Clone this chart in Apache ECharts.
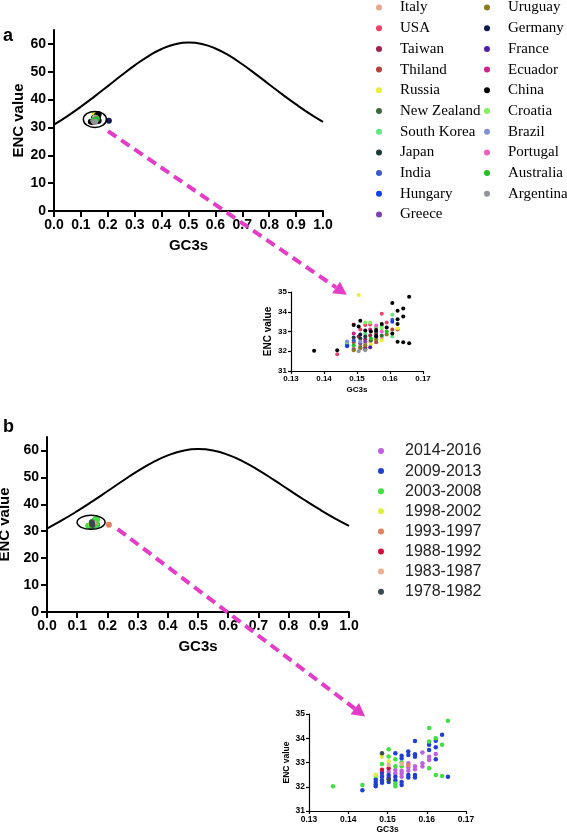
<!DOCTYPE html>
<html><head><meta charset="utf-8">
<script src="https://cdn.jsdelivr.net/npm/echarts@6/dist/echarts.min.js"></script>
<style>html,body{margin:0;padding:0;background:#fff;}#c{width:567px;height:833px;}</style>
</head><body><div id="c"></div>
<script>
// ---------- expected ENC curve (GC3s, ENC) ----------
const curveGC3 = [0,0.05,0.1,0.15,0.2,0.25,0.3,0.35,0.4,0.45,0.5,0.55,0.6,0.65,0.7,0.75,0.8,0.85,0.9,0.95,1.0];
const curveENC = [31,34.09,37.47,41.08,44.85,48.65,52.3,55.56,58.17,59.88,60.5,59.98,58.37,55.86,52.7,49.15,45.45,41.78,38.27,34.99,32];

// ---------- tick values ----------
const mainYTicks = [0,10,20,30,40,50,60];

// ---------- panel a: countries ----------
const countryNamesCol1 = ['Italy','USA','Taiwan','Thiland','Russia','New Zealand','South Korea','Japan','India','Hungary','Greece'];
const countryNamesCol2 = ['Uruguay','Germany','France','Ecuador','China','Croatia','Brazil','Portugal','Australia','Argentina'];
const italy = [[0.149,32.15],[0.151,32.3],[0.1525,32.4],[0.154,32.5],[0.1558,32.55],[0.1575,32.7]];
const usa = [[0.144,31.85],[0.149,33.35],[0.151,33.1],[0.1525,33.33],[0.154,33.35],[0.1575,33.9],[0.159,33.45]];
const taiwan = [[0.1505,32.75],[0.1525,32.6],[0.154,32.8],[0.1558,32.9]];
const thiland = [[0.149,32.45],[0.1525,32.2],[0.1558,32.45],[0.1607,33.1],[0.1623,33.1]];
const russia = [[0.1505,34.85],[0.1542,32.35],[0.1575,32.55],[0.1623,33.15]];
const newZealand = [[0.147,32.3],[0.151,32.2],[0.1542,32.55],[0.1575,32.8]];
const southKorea = [[0.1525,32.9],[0.1558,33.2],[0.1575,33.3],[0.1607,33.85],[0.1607,32.75]];
const japan = [[0.149,32.7],[0.151,32.65],[0.1525,32.75],[0.1558,33.0]];
const india = [[0.147,32.35],[0.149,32.55],[0.1607,33.6]];
const hungary = [[0.147,32.25],[0.1607,33.5]];
const greece = [[0.149,32.1],[0.151,32.4],[0.1525,32.5]];
const uruguay = [[0.149,32.05],[0.151,32.15],[0.1525,32.3],[0.1558,32.6],[0.159,32.85]];
const germany = [[0.151,32.85],[0.1558,32.75],[0.204,32.4]];
const france = [[0.1525,32.1],[0.154,32.2]];
const ecuador = [[0.149,32.9],[0.154,33.1]];
const china = [[0.137,32.02],[0.144,32.05],[0.149,33.33],[0.151,33.55],[0.1505,33.25],[0.1525,33.05],[0.1558,33.07],[0.1558,32.77],[0.1575,33.38],[0.159,33.2],[0.1607,34.44],[0.1607,32.9],[0.1623,34.05],[0.1623,33.62],[0.1623,33.38],[0.164,34.16],[0.164,33.76],[0.1658,34.76],[0.1623,32.48],[0.164,32.45],[0.1658,32.4],[0.1542,33.0]];
const croatia = [[0.147,32.45],[0.1525,33.45],[0.154,33.45],[0.1575,33.15]];
const brazil = [[0.147,32.5],[0.151,32.5]];
const portugal = [[0.1558,33.3],[0.1575,33.0]];
const australia = [[0.149,32.3],[0.1542,32.65],[0.159,33.0]];
const argentina = [[0.1505,32.0],[0.1525,32.05]];
const countryData = [italy,usa,taiwan,thiland,russia,newZealand,southKorea,japan,india,hungary,greece,
  uruguay,germany,france,ecuador,china,croatia,brazil,portugal,australia,argentina];

// ---------- panel b: periods ----------
const periodNames = ['2014-2016','2009-2013','2003-2008','1998-2002','1993-1997','1988-1992','1983-1987','1978-1982'];
const p2014 = [[0.1503,32.62],[0.152,32.69],[0.152,32.55],[0.1536,32.66],[0.1536,32.55],[0.1536,32.41],[0.1553,32.97],[0.1553,32.8],[0.1553,32.66],[0.157,32.85],[0.157,32.72],[0.1589,33.41],[0.1589,32.97],[0.1589,32.83],[0.1606,33.24],[0.1606,33.1],[0.1623,33.35],[0.1486,32.5],[0.1503,32.4]];
const p2009 = [[0.1436,31.86],[0.147,32.3],[0.147,32.2],[0.147,32.1],[0.147,32.02],[0.1486,32.58],[0.1486,32.41],[0.1486,32.27],[0.1486,32.16],[0.1503,32.48],[0.1503,32.34],[0.1503,32.2],[0.152,33.38],[0.152,32.41],[0.152,32.27],[0.1536,33.28],[0.1536,33.17],[0.1536,32.2],[0.1536,32.07],[0.1553,33.45],[0.1553,33.31],[0.1553,32.48],[0.1553,32.38],[0.157,33.89],[0.157,33.34],[0.157,33.24],[0.157,32.48],[0.157,32.38],[0.1606,33.73],[0.1606,33.52],[0.1623,33.9],[0.1623,33.63],[0.1623,33.13],[0.1639,34.14],[0.1654,32.41]];
const p2003 = [[0.1361,32.02],[0.1436,32.07],[0.147,32.44],[0.1486,32.94],[0.1503,33.55],[0.1503,33.25],[0.152,33.13],[0.152,32.85],[0.152,32.13],[0.152,32.02],[0.1536,33.0],[0.1536,32.85],[0.1606,34.42],[0.1606,33.87],[0.1606,32.76],[0.1623,34.0],[0.1623,32.48],[0.1639,33.73],[0.1639,32.44],[0.1654,34.72]];
const p1998 = [[0.1486,33.24],[0.1503,33.05],[0.147,32.5]];
const p1993 = [[0.1553,32.9],[0.205,32.4]];
const p1988 = [[0.1503,32.76],[0.1486,32.7]];
const p1983 = [[0.1503,32.9],[0.1536,32.95]];
const p1978 = [[0.1486,33.38],[0.1503,32.3]];
const periodData = [p2014,p2009,p2003,p1998,p1993,p1988,p1983,p1978];

// ---------- annotation anchors (data coords) ----------
const ellipseA = [0.152, 32.9];
const ellipseB = [0.146, 33.3];
const arrowAStart = [0.2007, 28.7];   // main a
const arrowATip = [0.1469, 34.86];    // inset a
const arrowBStart = [0.234, 30.8];    // main b
const arrowBTip = [0.1443, 34.9];     // inset b

// ---------- styles ----------
const countryColors = ['#E8A888','#F0406A','#A02050','#B84040','#E8F030','#3A6A3A','#60E880','#1E3A3A','#3A5AC8','#1040F0','#8040B0',
  '#8A7A20','#101850','#5020A0','#D0208A','#000000','#80F060','#8090D0','#F060C0','#20C020','#909498'];
const periodColors = ['#C060E0','#2040D0','#40E040','#E0F040','#E08060','#D01040','#E8B090','#3A4A50'];
const SANS = "'Liberation Sans', Arial, sans-serif";
const SERIF = "'Liberation Serif', 'Times New Roman', serif";
const countryNames = countryNamesCol1.concat(countryNamesCol2);

function axisStyle(big) {
  return {
    axisLine: {show: true, onZero: false, lineStyle: {color: '#000', width: big ? 2 : 1.2}},
    axisTick: {show: true, length: big ? 6 : 3, lineStyle: {color: '#000', width: big ? 2 : 1.2}},
    splitLine: {show: false}
  };
}
function mainX(gi, gap) {
  return Object.assign({type: 'value', gridIndex: gi, min: 0, max: 1, interval: 0.1,
    name: 'GC3s', nameLocation: 'middle', nameGap: gap,
    nameTextStyle: {fontFamily: SANS, fontWeight: 'bold', fontSize: 15, color: '#000'},
    axisLabel: {fontFamily: SANS, fontWeight: 'bold', fontSize: 14, color: '#000', margin: 7,
      formatter: v => v.toFixed(1)}}, axisStyle(true));
}
function mainY(gi, gap) {
  return Object.assign({type: 'value', gridIndex: gi, min: 0, max: 65, interval: 10,
    name: 'ENC value', nameLocation: 'middle', nameGap: gap,
    nameTextStyle: {fontFamily: SANS, fontWeight: 'bold', fontSize: 15, color: '#000'},
    axisLabel: {fontFamily: SANS, fontWeight: 'bold', fontSize: 14, color: '#000', margin: 8, customValues: mainYTicks},
    axisTick: {show: true, length: 6, customValues: mainYTicks, lineStyle: {color: '#000', width: 2}},
    axisLine: {show: true, onZero: false, lineStyle: {color: '#000', width: 2}},
    splitLine: {show: false}});
}
function insetX(gi, gap, fs) {
  return Object.assign({type: 'value', gridIndex: gi, min: 0.13, max: 0.17, interval: 0.01,
    name: 'GC3s', nameLocation: 'middle', nameGap: gap,
    nameTextStyle: {fontFamily: SANS, fontWeight: 'bold', fontSize: fs, color: '#000'},
    axisLabel: {fontFamily: SANS, fontWeight: 'bold', fontSize: fs, color: '#000', margin: 4,
      formatter: v => v.toFixed(2)}}, axisStyle(false));
}
function insetY(gi, gap, fs, nfs) {
  return Object.assign({type: 'value', gridIndex: gi, min: 31, max: 35, interval: 1,
    name: 'ENC value', nameLocation: 'middle', nameGap: gap,
    nameTextStyle: {fontFamily: SANS, fontWeight: 'bold', fontSize: nfs, color: '#000'},
    axisLabel: {fontFamily: SANS, fontWeight: 'bold', fontSize: fs, color: '#000', margin: 4}}, axisStyle(false));
}

const curveData = curveGC3.map((g, i) => [g, curveENC[i]]);
const series = [];
series.push({type: 'line', name: 'curveA', xAxisIndex: 0, yAxisIndex: 0, data: curveData, smooth: true,
  showSymbol: false, lineStyle: {color: '#000', width: 2}, z: 1, silent: true});
series.push({type: 'line', name: 'curveB', xAxisIndex: 2, yAxisIndex: 2, data: curveData, smooth: true,
  showSymbol: false, lineStyle: {color: '#000', width: 2}, z: 1, silent: true});
countryNames.forEach((n, i) => {
  series.push({type: 'scatter', name: n, xAxisIndex: 0, yAxisIndex: 0, data: countryData[i], symbolSize: 6,
    itemStyle: {color: countryColors[i], opacity: 1}, z: 3});
  series.push({type: 'scatter', name: n, xAxisIndex: 1, yAxisIndex: 1, data: countryData[i], symbolSize: 4,
    itemStyle: {color: countryColors[i], opacity: 1}, z: 3});
});
periodNames.forEach((n, i) => {
  series.push({type: 'scatter', name: n, xAxisIndex: 2, yAxisIndex: 2, data: periodData[i], symbolSize: 6,
    itemStyle: {color: periodColors[i], opacity: 1}, z: 3});
  series.push({type: 'scatter', name: n, xAxisIndex: 3, yAxisIndex: 3, data: periodData[i], symbolSize: 4.5,
    itemStyle: {color: periodColors[i], opacity: 1}, z: 3});
});

function legendBox(data, left, top, w, gap, font, fs, color) {
  return {data: data, orient: 'vertical', left: left, top: top, padding: 0, icon: 'circle',
    itemWidth: w, itemHeight: 6, itemGap: gap, selectedMode: false,
    textStyle: {fontFamily: font, fontSize: fs, color: color}};
}

const gridBase = {outerBoundsMode: 'none', containLabel: false};
const option = {
  animation: false,
  backgroundColor: '#fff',
  grid: [
    Object.assign({left: 54, top: 30, width: 269, height: 181}, gridBase),
    Object.assign({left: 291, top: 292, width: 132, height: 79}, gridBase),
    Object.assign({left: 47, top: 437, width: 302, height: 175}, gridBase),
    Object.assign({left: 309, top: 714, width: 157, height: 97}, gridBase)
  ],
  xAxis: [mainX(0, 27), insetX(1, 15, 8), mainX(2, 27), insetX(3, 13, 8.5)],
  yAxis: [mainY(0, 28), insetY(1, 18, 8, 10), mainY(2, 30), insetY(3, 14, 8.5, 8.5)],
  legend: [
    legendBox(countryNamesCol1, 376, 0, 32, 5.7, SERIF, 15, '#000'),
    legendBox(countryNamesCol2, 484, 0, 32, 5.7, SERIF, 15, '#000'),
    legendBox(periodNames, 378, 443, 38, 4.1, SANS, 16, '#222')
  ],
  series: series
};

const chart = echarts.init(document.getElementById('c'), null, {renderer: 'canvas'});
chart.setOption(option);

function px(g, v) { return chart.convertToPixel({gridIndex: g}, v); }
const MAG = '#E43CC8';
function arrow(p0, p1) {
  const dx = p1[0] - p0[0], dy = p1[1] - p0[1];
  const L = Math.sqrt(dx * dx + dy * dy), ux = dx / L, uy = dy / L;
  const hl = 13, hw = 7;
  const bx = p1[0] - ux * hl, by = p1[1] - uy * hl;
  return [
    {type: 'line', shape: {x1: p0[0], y1: p0[1], x2: bx, y2: by},
      style: {stroke: MAG, lineWidth: 4, lineDash: [10, 6]}, z: 10},
    {type: 'polygon', shape: {points: [[p1[0], p1[1]], [bx - uy * hw, by + ux * hw], [bx + uy * hw, by - ux * hw]]},
      style: {fill: MAG}, z: 10}
  ];
}
const cA = px(0, ellipseA), cB = px(2, ellipseB);
const graphics = [
  {type: 'text', left: 3, top: 27, style: {text: 'a', font: 'bold 18px ' + SANS, fill: '#000'}},
  {type: 'text', left: 3, top: 418, style: {text: 'b', font: 'bold 18px ' + SANS, fill: '#000'}},
  {type: 'ellipse', shape: {cx: cA[0], cy: cA[1], rx: 11.5, ry: 8}, style: {fill: null, stroke: '#000', lineWidth: 1.5}, z: 9},
  {type: 'ellipse', shape: {cx: cB[0], cy: cB[1], rx: 14, ry: 7}, style: {fill: null, stroke: '#000', lineWidth: 1.5}, z: 9}
].concat(arrow(px(0, arrowAStart), px(1, arrowATip)), arrow(px(2, arrowBStart), px(3, arrowBTip)));
chart.setOption({graphic: graphics});
</script>
</body></html>
